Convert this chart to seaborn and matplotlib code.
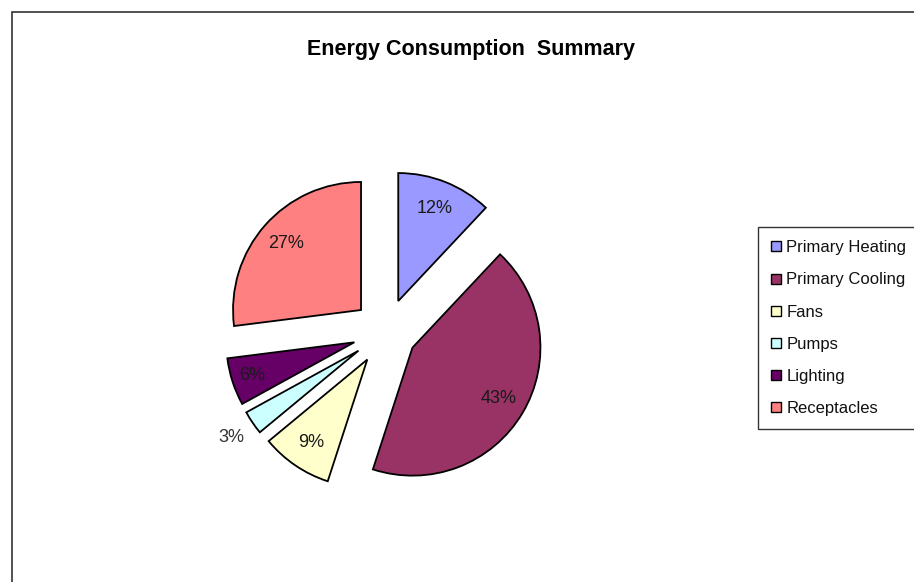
import numpy as np
import matplotlib
matplotlib.use("Agg")
import matplotlib.pyplot as plt
from matplotlib.patches import Rectangle
import seaborn as sns

# Data
categories = ["Primary Heating", "Primary Cooling", "Fans", "Pumps", "Lighting", "Receptacles"]
shares = [12, 43, 9, 3, 6, 27]
explode = [0.26, 0.24, 0.26, 0.26, 0.26, 0.26]
colors = ["#9999FF", "#993366", "#FFFFCC", "#CCFFFF", "#660066", "#FF8080"]

sns.set_style("white")
plt.rcParams["font.family"] = ["Liberation Sans", "DejaVu Sans"]
plt.rcParams["text.color"] = "#111111"

W, H = 914, 582
fig = plt.figure(figsize=(W / 100, H / 100), dpi=100)
fig.patch.set_facecolor("white")

# chart-area border (top and left edges visible, rest runs off the image)
fig.patches.append(Rectangle((12 / W, -0.1), 1.2, 1.1 - 12 / H, transform=fig.transFigure,
                             fill=False, edgecolor="#222222", linewidth=1.1))

# pie axes: centre at (386, 332) px, radius 128 px
cx, cy, r_px, half = 386, 332, 128, 210
ax = fig.add_axes([(cx - half) / W, (H - cy - half) / H, 2 * half / W, 2 * half / H])
palette = sns.color_palette(colors)
wedges, texts, autotexts = ax.pie(
    shares, explode=explode, colors=palette, startangle=90, counterclock=False,
    autopct="%1.0f%%", pctdistance=0.78,
    wedgeprops=dict(edgecolor="black", linewidth=1.3),
    textprops=dict(fontsize=13, color="#1a1a1a"),
)
lim = half / r_px
ax.set_xlim(-lim, lim)
ax.set_ylim(-lim, lim)
ax.set_aspect("equal")
ax.axis("off")

# small "Pumps" slice has its label outside the wedge
i = categories.index("Pumps")
x, y = autotexts[i].get_position()
k = (explode[i] + 1.2) / (explode[i] + 0.78)
autotexts[i].set_position((x * k, y * k))
autotexts[i].set_color("#333333")
# lighting label sits a bit further out
j = categories.index("Lighting")
x, y = autotexts[j].get_position()
k = (explode[j] + 0.84) / (explode[j] + 0.78)
autotexts[j].set_position((x * k, y * k))

fig.text(471 / W, 1 - 49 / H, "Energy Consumption  Summary", ha="center", va="center",
         fontsize=15.5, fontweight="bold", color="black")

leg = fig.legend(wedges, categories, loc="upper left", bbox_to_anchor=(758 / W, 1 - 227 / H),
                 borderaxespad=0, frameon=True, fancybox=False, fontsize=12,
                 handlelength=0.55, handleheight=0.55, handletextpad=0.35,
                 labelspacing=1.03, borderpad=0.8)
leg.get_frame().set_edgecolor("black")
leg.get_frame().set_linewidth(1.0)
for h in leg.legend_handles:
    h.set_linewidth(1.0)
for t in leg.get_texts():
    t.set_color("#111111")

fig.savefig("out.png", dpi=100)
